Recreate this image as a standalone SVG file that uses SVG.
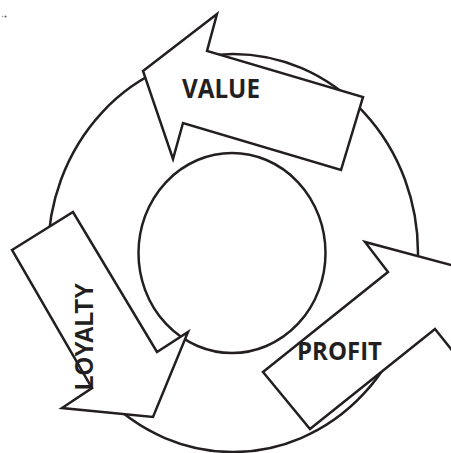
<svg xmlns="http://www.w3.org/2000/svg" width="451" height="453" viewBox="0 0 451 453">
  <style>
    .ring { fill: none; stroke: #231f20; stroke-width: 2.5; }
    .arrow { fill: #ffffff; stroke: #231f20; stroke-width: 2.5; stroke-linejoin: miter; }
    .label { font-family: "Open Sans", "Liberation Sans", sans-serif; font-weight: 700; fill: #231f20; }
    .label-alt { font-family: "Liberation Sans", Arial, sans-serif; font-weight: 700; fill: #231f20; }
  </style>
  <rect width="451" height="453" fill="#ffffff"/>
  <!-- stray marks in the corner -->
  <circle cx="2.5" cy="16.5" r="0.8" fill="#9a9a9a"/>
  <circle cx="5.5" cy="16.5" r="1" fill="#555555"/>

  <!-- cycle rings -->
  <g id="rings">
    <ellipse id="outer-ring" class="ring" cx="233" cy="253" rx="185" ry="199"/>
    <ellipse id="inner-ring" class="ring" cx="232" cy="253" rx="93.5" ry="100"/>
  </g>

  <g id="connectors">
    <g id="value">
      <polygon class="arrow" points="143,71 217,14 207,51 363,97 341,170 183,123 173,159"/>
      <text class="label" x="182" y="98" font-size="26" textLength="78" lengthAdjust="spacingAndGlyphs">VALUE</text>
    </g>
    <g id="profit">
      <polygon class="arrow" points="263,372 388,272 365,242 455,266 459,359 435,329 310,429"/>
      <text class="label" x="297" y="360" font-size="25.5" textLength="85" lengthAdjust="spacingAndGlyphs">PROFIT</text>
    </g>
    <g id="loyalty">
      <polygon class="arrow" points="12,250 73,212 157,352 188,332 153,417 62,408 92,388"/>
      <text class="label-alt" transform="translate(93,390) rotate(-90)" x="0" y="0" font-size="25" textLength="107" lengthAdjust="spacingAndGlyphs">LOYALTY</text>
    </g>
  </g>
</svg>
